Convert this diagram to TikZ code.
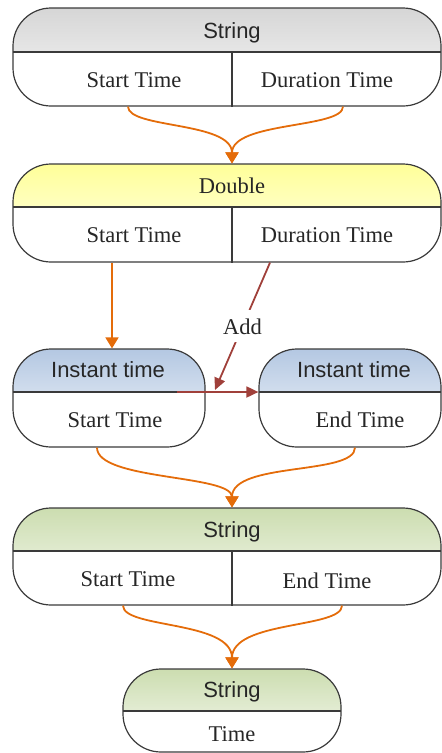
\documentclass[tikz,border=0pt]{standalone}
\usepackage{fontspec}
\setmainfont{Liberation Serif}
\newfontfamily\headfont{Liberation Sans}
\usetikzlibrary{arrows.meta}
\definecolor{boxline}{HTML}{3A3A3A}
\definecolor{flow}{HTML}{E46C0A}
\definecolor{addred}{HTML}{A0403A}
\definecolor{grayhd}{HTML}{D6D6D6}
\definecolor{yellowhd}{HTML}{FFFF99}
\definecolor{bluehd}{HTML}{B4C8E2}
\definecolor{greenhd}{HTML}{CCDDB0}
\tikzset{
  box/.style n args={4}{draw=boxline, line width=1.2pt, rounded corners=38pt,
    minimum width=#1, minimum height=#2, inner sep=0pt,
    path picture={
      \shade[sharp corners, top color=#3, bottom color=#3!12]
        (path picture bounding box.north west) rectangle
        ([yshift=-#4]path picture bounding box.north east);
      \draw[sharp corners, boxline, line width=1.2pt]
        ([yshift=-#4]path picture bounding box.north west) --
        ([yshift=-#4]path picture bounding box.north east);
    }},
  divider/.style={draw=boxline, line width=1.2pt},
  hd/.style={anchor=base, inner sep=0pt, font=\headfont\fontsize{22}{26}\selectfont, text=black!85},
  fld/.style={anchor=base, inner sep=0pt, font=\fontsize{22.5}{26}\selectfont, text=black!85},
  flowarrow/.style={draw=flow, line width=1.8pt, -{Triangle[length=11pt,width=13pt]}},
  addarrow/.style={draw=addred, line width=1.8pt, -{Triangle[length=12pt,width=11pt]}},
  addlbl/.style={fill=white, inner xsep=2pt, inner ysep=8pt, font=\fontsize{22.5}{26}\selectfont, text=black!85},
}
\begin{document}
\begin{tikzpicture}[x=1pt, y=-1pt]
\useasboundingbox (0,0) rectangle (442,753);

% record boxes
\node[box={428pt}{98pt}{grayhd}{44pt}]   (s1) at (227,57)    {};
\node[box={428pt}{98pt}{yellowhd}{43pt}] (d2) at (227,213)   {};
\node[box={192pt}{98pt}{bluehd}{43pt}]   (i3) at (109,398)   {};
\node[box={182pt}{98pt}{bluehd}{43pt}]   (i4) at (350,398)   {};
\node[box={428pt}{97pt}{greenhd}{43pt}]  (s5) at (227,556.5) {};
\node[box={218pt}{83pt}{greenhd}{42pt}]  (s6) at (232,710.5) {};

% vertical field separators
\draw[divider] ([xshift=5pt]s1.south) -- ([xshift=5pt,yshift=-44pt]s1.north);
\draw[divider] ([xshift=5pt]d2.south) -- ([xshift=5pt,yshift=-43pt]d2.north);
\draw[divider] ([xshift=5pt]s5.south) -- ([xshift=5pt,yshift=-43pt]s5.north);

% titles and fields
\node[hd]  (s1t) at (232,38)  {String};
\node[fld] (s1a) at (134,87)  {Start Time};
\node[fld] (s1b) at (327,87)  {Duration Time};
\node[fld] (d2t) at (232,193) {Double};
\node[fld] (d2a) at (134,242) {Start Time};
\node[fld] (d2b) at (327,242) {Duration Time};
\node[hd]  (i3t) at (108,377) {Instant time};
\node[fld] (i3a) at (115,427) {Start Time};
\node[hd]  (i4t) at (354,377) {Instant time};
\node[fld] (i4a) at (360,427) {End Time};
\node[hd]  (s5t) at (232,537) {String};
\node[fld] (s5a) at (128,586) {Start Time};
\node[fld] (s5b) at (327,588) {End Time};
\node[hd]  (s6t) at (232,697) {String};
\node[fld] (s6a) at (232,741) {Time};

% conversion flow
\draw[flowarrow] ([xshift=-99pt]s1.south) .. controls +(0,22) and +(0,-42) .. ([xshift=5pt]d2.north);
\draw[flowarrow] ([xshift=116pt]s1.south) .. controls +(0,22) and +(0,-42) .. ([xshift=5pt]d2.north);
\draw[flowarrow] ([xshift=-115pt]d2.south) -- ([xshift=-115pt]d2.south |- i3.north);
\draw[flowarrow] ([xshift=-12pt]i3.south) .. controls +(0,33) and +(0,-33) .. ([xshift=5pt]s5.north);
\draw[flowarrow] ([xshift=5pt]i4.south) .. controls +(0,28) and +(0,-46) .. ([xshift=5pt]s5.north);
\draw[flowarrow] ([xshift=-104pt]s5.south) .. controls +(0,23) and +(0,-48) .. (s6.north);
\draw[flowarrow] ([xshift=115pt]s5.south) .. controls +(0,23) and +(0,-48) .. (s6.north);

% duration added to the start instant
\coordinate (addtip) at (215,390);
\coordinate (addfrom) at (177,392);
\draw[addarrow] ([xshift=43pt]d2.south) -- node[addlbl] (addl) {Add} (addtip);
\draw[addarrow] (addfrom) -- (addfrom -| i4.west);
\end{tikzpicture}
\end{document}
